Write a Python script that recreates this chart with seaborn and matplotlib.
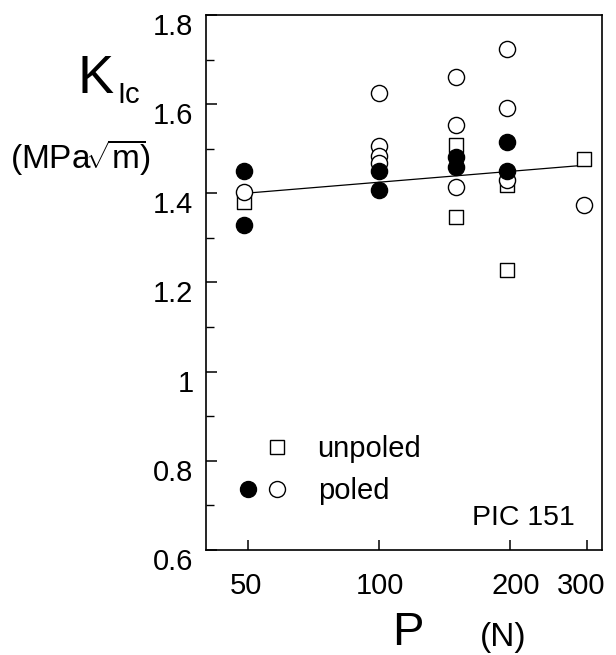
import matplotlib
matplotlib.use("Agg")
import matplotlib.pyplot as plt
import matplotlib.transforms as mtransforms
from matplotlib.lines import Line2D
from matplotlib.legend_handler import HandlerTuple
from matplotlib.ticker import FixedLocator, FixedFormatter, NullLocator
import seaborn as sns

# ---------------- data ----------------
unpoled_x = [49, 150, 150, 197, 197, 296]
unpoled_y = [1.380, 1.508, 1.347, 1.418, 1.228, 1.476]

poled_filled_x = [49, 49, 100, 100, 150, 150, 197, 197]
poled_filled_y = [1.449, 1.330, 1.449, 1.408, 1.481, 1.460, 1.516, 1.449]

poled_open_x = [49, 100, 100, 100, 100, 150, 150, 150, 197, 197, 197, 296]
poled_open_y = [1.402, 1.626, 1.506, 1.483, 1.469, 1.662, 1.554, 1.415,
                1.724, 1.592, 1.430, 1.374]

fit_x = [49, 296]
fit_y = [1.400, 1.463]

x_ticks = [50, 100, 200, 300]
x_tick_labels = ["50", "100", "200", "300"]
y_ticks = [0.6, 0.8, 1.0, 1.2, 1.4, 1.6, 1.8]
y_tick_labels = ["0.6", "0.8", "1", "1.2", "1.4", "1.6", "1.8"]
y_minor = [0.7, 0.9, 1.1, 1.3, 1.5, 1.7]

# ---------------- style ----------------
sns.set_style("white")
plt.rcParams["font.family"] = ["Liberation Sans", "DejaVu Sans"]
plt.rcParams["mathtext.fontset"] = "custom"
plt.rcParams["mathtext.rm"] = "Liberation Sans"
plt.rcParams["mathtext.it"] = "Liberation Sans:italic"
plt.rcParams["axes.edgecolor"] = "black"
plt.rcParams["text.color"] = "black"
plt.rcParams["xtick.color"] = "black"
plt.rcParams["ytick.color"] = "black"
plt.rcParams["xtick.labelcolor"] = "black"
plt.rcParams["ytick.labelcolor"] = "black"

fig = plt.figure(figsize=(6.16, 6.55), dpi=100)
ax = fig.add_axes([206 / 616, 1 - 550 / 655, 396 / 616, 535 / 655])

sns.lineplot(x=fit_x, y=fit_y, ax=ax, color="black", linewidth=0.9, zorder=2)
sns.scatterplot(x=unpoled_x, y=unpoled_y, ax=ax, marker="s", s=105,
                facecolor="white", edgecolor="black", linewidth=1.0, zorder=3)
sns.scatterplot(x=poled_open_x, y=poled_open_y, ax=ax, marker="o", s=135,
                facecolor="white", edgecolor="black", linewidth=1.0, zorder=3)
sns.scatterplot(x=poled_filled_x, y=poled_filled_y, ax=ax, marker="o", s=135,
                facecolor="black", edgecolor="black", linewidth=1.0, zorder=4)

ax.set_xscale("log")
ax.set_xlim(40, 325)
ax.set_ylim(0.6, 1.8)
ax.xaxis.set_major_locator(FixedLocator(x_ticks))
ax.xaxis.set_major_formatter(FixedFormatter(x_tick_labels))
ax.xaxis.set_minor_locator(NullLocator())
ax.yaxis.set_major_locator(FixedLocator(y_ticks))
ax.yaxis.set_major_formatter(FixedFormatter(y_tick_labels))
ax.yaxis.set_minor_locator(FixedLocator(y_minor))

for sp in ax.spines.values():
    sp.set_visible(True)
    sp.set_linewidth(1.2)
    sp.set_color("black")

ax.tick_params(axis="y", which="major", direction="in", length=8, width=1.1,
               labelsize=21, pad=9, left=True, right=False,
               color="black", labelcolor="black")
ax.tick_params(axis="y", which="minor", direction="in", length=5.5, width=1.0,
               left=True, right=False, color="black")
ax.tick_params(axis="x", which="major", direction="in", length=7, width=1.1,
               labelsize=21, pad=16, bottom=True, top=False,
               color="black", labelcolor="black")
ax.set_xlabel("")
ax.set_ylabel("")

# tick label offsets (labels sit slightly below their ticks)
for t in ax.yaxis.get_major_ticks():
    t.label1.set_transform(t.label1.get_transform() +
                           mtransforms.ScaledTranslation(0, -9 / 100, fig.dpi_scale_trans))
xt = ax.xaxis.get_major_ticks()
for t, dx in zip(xt, [-2, 1, 6, -6]):
    t.label1.set_transform(t.label1.get_transform() +
                           mtransforms.ScaledTranslation(dx / 100, 0, fig.dpi_scale_trans))

# legend
blank = Line2D([], [], linestyle="none", marker=None)
sq = Line2D([], [], linestyle="none", marker="s", markersize=9.5,
            markerfacecolor="white", markeredgecolor="black", markeredgewidth=1.0)
fc = Line2D([], [], linestyle="none", marker="o", markersize=11.5,
            markerfacecolor="black", markeredgecolor="black", markeredgewidth=1.0)
oc = Line2D([], [], linestyle="none", marker="o", markersize=11.5,
            markerfacecolor="white", markeredgecolor="black", markeredgewidth=1.0)
ax.legend([(blank, sq), (fc, oc)], ["unpoled", "poled"],
          handler_map={tuple: HandlerTuple(ndivide=None, pad=0)},
          loc="center left", bbox_to_anchor=((233 - 206) / 396, (550 - 470) / 535),
          frameon=False, fontsize=21, handlelength=2.0, handletextpad=0.9,
          labelspacing=0.5, borderpad=0, borderaxespad=0, numpoints=1)

ax.text((575 - 206) / 396, (550 - 525) / 535, "PIC 151", transform=ax.transAxes,
        ha="right", va="baseline", fontsize=20.5)

# axis titles
fig.text(77 / 616, 1 - 93 / 655, "K", fontsize=39, ha="left", va="baseline")
fig.text(117 / 616, 1 - 103 / 655, "Ic", fontsize=21, ha="left", va="baseline")
fig.text(80 / 616, 1 - 168 / 655, r"(MPa$\!\sqrt{\mathrm{m}}\!$)", fontsize=24,
         ha="center", va="baseline")
fig.text(408 / 616, 1 - 645 / 655, "P", fontsize=34, ha="center", va="baseline")
fig.text(503 / 616, 1 - 646 / 655, "(N)", fontsize=24, ha="center", va="baseline")

fig.savefig("out.png", dpi=100)
